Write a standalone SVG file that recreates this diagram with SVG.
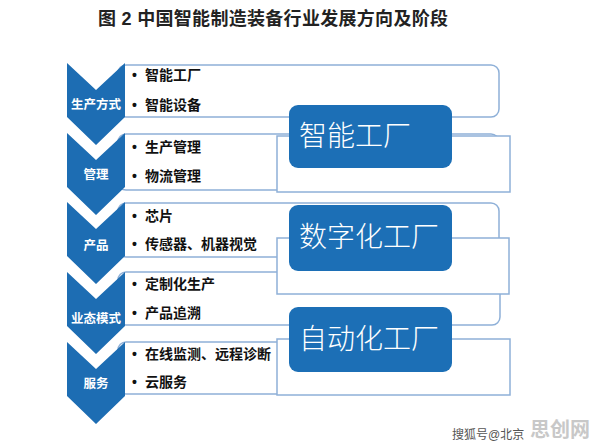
<svg xmlns="http://www.w3.org/2000/svg" width="596" height="446" viewBox="0 0 596 446">
<style>
.t{font-family:"Liberation Sans","Noto Sans CJK SC",sans-serif}
.title{font-size:18px;font-weight:700;fill:#222;letter-spacing:0.3px}
.chev{fill:#1d6db3}
.lab{font-size:12.5px;font-weight:700;fill:#fff;text-anchor:middle}
.row{fill:#fff;stroke:#8eb0d8;stroke-width:1.5}
.item{font-size:14px;font-weight:700;fill:#111}
.big{fill:#1c6fb6}
.bigt{font-size:28px;font-weight:300;fill:#fff}
.wm{font-size:12px;fill:#555}
.wm2{font-size:20px;font-weight:700;fill:#bbb;opacity:0.8}
</style>
<rect width="596" height="446" fill="#fff"/>
<text class="t title" x="98" y="25">图 2 中国智能制造装备行业发展方向及阶段</text>

<g id="rows">
<rect class="row" x="118" y="65" width="381" height="52" rx="8"/>
<rect class="row" x="118" y="134" width="381" height="56" rx="8"/>
<rect class="row" x="118" y="203" width="381" height="54" rx="8"/>
<rect class="row" x="118" y="272" width="382" height="53" rx="8"/>
<rect class="row" x="118" y="342" width="381" height="52" rx="8"/>
</g>
<g id="brackets">
<rect class="row" x="277" y="136" width="233" height="56"/>
<rect class="row" x="277" y="238" width="232" height="56"/>
<rect class="row" x="277" y="339" width="233" height="56"/>
</g>

<g id="level1">
<path class="chev" d="M67,63 L96,90 L125,63 V117 L96,145 L67,117 Z"/>
<text class="t lab" x="96" y="109">生产方式</text>
<text class="t item" x="132" y="80">•</text><text class="t item" x="145" y="80">智能工厂</text>
<text class="t item" x="132" y="110">•</text><text class="t item" x="145" y="110">智能设备</text>
</g>
<g id="level2">
<path class="chev" d="M67,133 L96,160 L125,133 V187 L96,215 L67,187 Z"/>
<text class="t lab" x="96" y="179">管理</text>
<text class="t item" x="132" y="152">•</text><text class="t item" x="145" y="152">生产管理</text>
<text class="t item" x="132" y="181">•</text><text class="t item" x="145" y="181">物流管理</text>
</g>
<g id="level3">
<path class="chev" d="M67,202 L96,229 L125,202 V256 L96,284 L67,256 Z"/>
<text class="t lab" x="96" y="250">产品</text>
<text class="t item" x="132" y="221">•</text><text class="t item" x="145" y="221">芯片</text>
<text class="t item" x="132" y="249">•</text><text class="t item" x="145" y="249">传感器、机器视觉</text>
</g>
<g id="level4">
<path class="chev" d="M67,272 L96,299 L125,272 V326 L96,354 L67,326 Z"/>
<text class="t lab" x="96" y="323">业态模式</text>
<text class="t item" x="132" y="289">•</text><text class="t item" x="145" y="289">定制化生产</text>
<text class="t item" x="132" y="318">•</text><text class="t item" x="145" y="318">产品追溯</text>
</g>
<g id="level5">
<path class="chev" d="M67,342 L96,369 L125,342 V396 L96,424 L67,396 Z"/>
<text class="t lab" x="96" y="388">服务</text>
<text class="t item" x="132" y="359">•</text><text class="t item" x="145" y="359">在线监测、远程诊断</text>
<text class="t item" x="132" y="387">•</text><text class="t item" x="145" y="387">云服务</text>
</g>

<g id="stage1">
<rect class="big" x="289" y="105" width="163" height="63" rx="9"/>
<text class="t bigt" x="299" y="146">智能工厂</text>
</g>
<g id="stage2">
<rect class="big" x="289" y="205" width="163" height="66" rx="9"/>
<text class="t bigt" x="299" y="247">数字化工厂</text>
</g>
<g id="stage3">
<rect class="big" x="289" y="307" width="163" height="65" rx="9"/>
<text class="t bigt" x="299" y="349">自动化工厂</text>
</g>

<g id="watermark">
<text class="t wm" x="452" y="439">搜狐号@北京</text>
<text class="t wm2" x="530" y="437">思创网</text>
</g>
</svg>
